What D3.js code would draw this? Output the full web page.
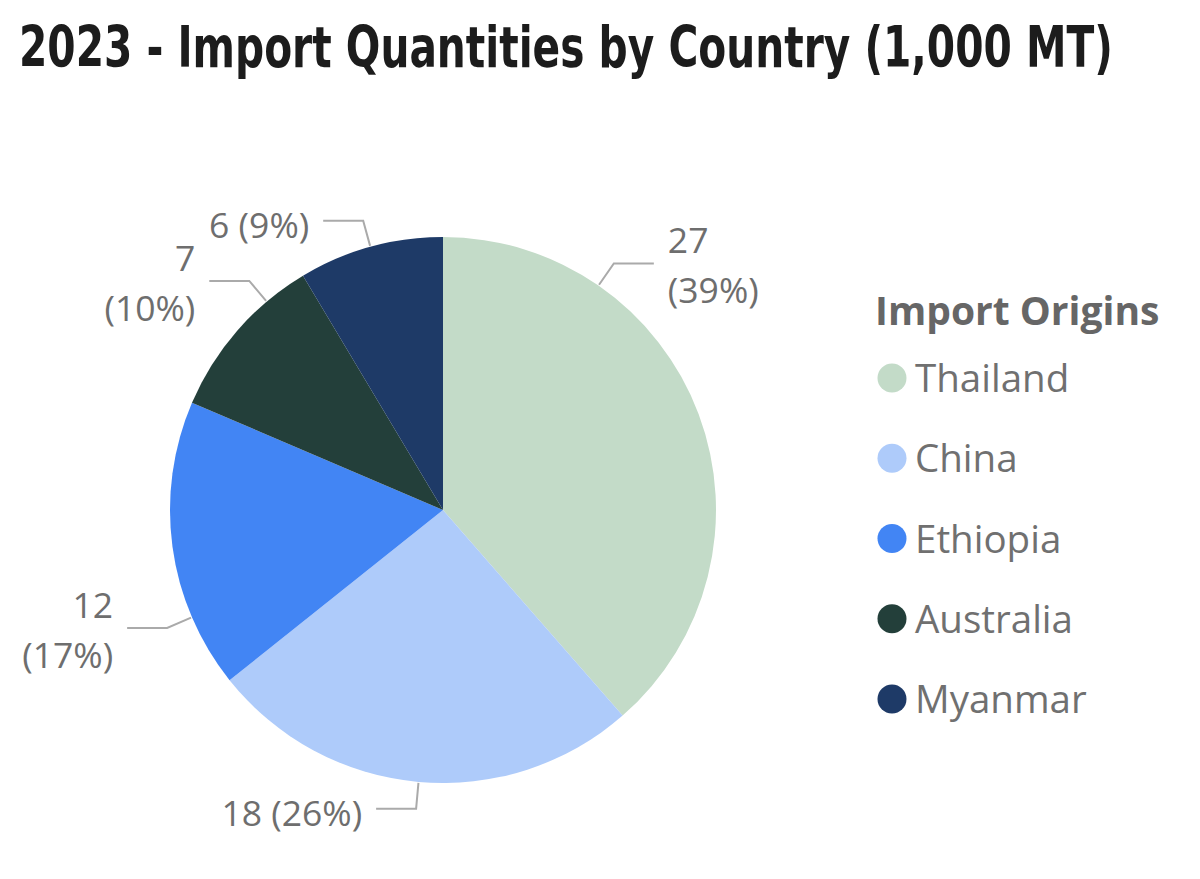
<!DOCTYPE html>
<html>
<head>
<meta charset="utf-8">
<script src="https://cdn.jsdelivr.net/npm/d3@7"></script>
<style>
  html, body { margin: 0; padding: 0; background: #ffffff; }
  svg { display: block; }
</style>
</head>
<body>
<svg id="chart" width="1200" height="879"></svg>
<script>
// ---- data ----
const categories = ["Thailand", "China", "Ethiopia", "Australia", "Myanmar"];
const values = [27, 18, 12, 7, 6];
const colors = ["#C3DBC8", "#AECBFA", "#4285F4", "#233F3A", "#1E3A67"];
const titleText = "2023 - Import Quantities by Country (1,000 MT)";
const legendTitle = "Import Origins";

// ---- label layout (position within slice, wrapping) ----
const labelFrac = [0.25, 0.5, 0.25, 0.74, 0.5];
const labelWrap = [true, false, true, true, false];

const W = 1200, H = 879;
const cx = 443, cy = 510, R = 273;
const svg = d3.select("#chart");

// title: fit to target width, then stretch vertically to match condensed look
const titleFont = "'DejaVu Sans Condensed', 'Liberation Sans Narrow', sans-serif";
const tg = svg.append("g");
const title = tg.append("text")
  .attr("x", 0).attr("y", 0)
  .attr("font-family", titleFont)
  .attr("font-weight", "bold")
  .attr("font-size", 50)
  .attr("fill", "#1c1c1c")
  .text(titleText);
const natW = title.node().getComputedTextLength();
const fs = 50 * 1094 / natW;
title.attr("font-size", fs);
const capH = 0.729 * fs;
const ky = 41 / capH;
tg.attr("transform", `translate(19,67) scale(1,${ky})`);

const total = d3.sum(values);
const data = categories.map((c, i) => ({ name: c, value: values[i], color: colors[i], i }));
const pie = d3.pie().sort(null).value(d => d.value);
const arcs = pie(data);
const arc = d3.arc().innerRadius(0).outerRadius(R);

const g = svg.append("g").attr("transform", `translate(${cx},${cy})`);
g.selectAll("path.slice").data(arcs).enter().append("path")
  .attr("class", "slice")
  .attr("d", arc)
  .attr("fill", d => d.data.color);

// labels with leader lines
const pct = d3.format(".0%");
const labelFont = "'Open Sans', 'Noto Sans', sans-serif";
arcs.forEach((a, i) => {
  const ang = a.startAngle + (a.endAngle - a.startAngle) * labelFrac[i];
  const sx = Math.sin(ang), sy = -Math.cos(ang);
  const p0 = [(R + 1) * sx, (R + 1) * sy];
  const p1 = [(R + 27) * sx, (R + 27) * sy];
  const right = sx > 0;
  const dir = right ? 1 : -1;
  const p2 = [p1[0] + dir * 40, p1[1]];
  g.append("polyline")
    .attr("points", [p0, p1, p2].map(p => p.join(",")).join(" "))
    .attr("fill", "none")
    .attr("stroke", "#aaaaaa")
    .attr("stroke-width", 2);
  const tx = p2[0] + dir * 14;
  const vTxt = String(a.data.value);
  const pTxt = "(" + pct(a.data.value / total) + ")";
  const t = g.append("text")
    .attr("font-family", labelFont)
    .attr("font-size", 35.5)
    .attr("fill", "#6e6e6e")
    .attr("text-anchor", right ? "start" : "end");
  if (labelWrap[i]) {
    t.append("tspan").attr("x", tx).attr("y", p2[1] - 10).text(vTxt);
    t.append("tspan").attr("x", tx).attr("y", p2[1] + 40).text(pTxt);
  } else {
    t.append("tspan").attr("x", tx).attr("y", p2[1] + 17).text(vTxt + " " + pTxt);
  }
});

// legend
const lg = svg.append("g");
lg.append("text")
  .attr("x", 875).attr("y", 325)
  .attr("font-family", labelFont)
  .attr("font-weight", 700)
  .attr("font-size", 39)
  .attr("fill", "#666666")
  .text(legendTitle);
const ly = d3.scalePoint().domain(categories).range([378, 699]);
const items = lg.selectAll("g.item").data(data).enter().append("g").attr("class", "item");
items.append("circle")
  .attr("cx", 892).attr("cy", d => ly(d.name)).attr("r", 14.5)
  .attr("fill", d => d.color);
items.append("text")
  .attr("x", 915).attr("y", d => ly(d.name) + 14)
  .attr("font-family", labelFont)
  .attr("font-size", 38.5)
  .attr("fill", "#707070")
  .text(d => d.name);
</script>
</body>
</html>
